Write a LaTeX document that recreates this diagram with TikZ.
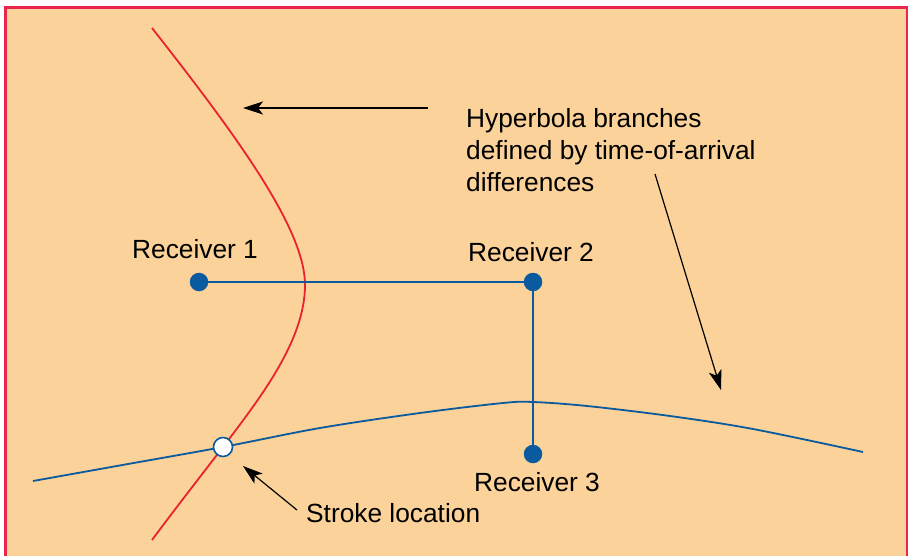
\documentclass[tikz,border=0pt]{standalone}
\usepackage{fontspec}
\setmainfont{Liberation Sans}
\usetikzlibrary{arrows.meta}
\definecolor{bgorange}{HTML}{FBD299}
\definecolor{framered}{HTML}{E8264E}
\definecolor{hypred}{HTML}{E8232F}
\definecolor{rblue}{HTML}{0A5AA0}
\begin{document}
\begin{tikzpicture}[x=1pt,y=-1pt,
  lbl/.style={anchor=base west,inner sep=0pt,font=\fontsize{26.3}{31}\selectfont,text=black},
  rdot/.style={circle,fill=rblue,inner sep=0pt,minimum size=18.5pt},
  sdot/.style={circle,draw=rblue,line width=1.6pt,fill=white,inner sep=0pt,minimum size=19pt},
  blueline/.style={draw=rblue,line width=1.8pt},
  redline/.style={draw=hypred,line width=1.8pt},
  pointer/.style={draw=black,line width=1.2pt,-{Stealth[length=20pt,width=13pt,inset=5pt]}}]
\useasboundingbox (0,0) rectangle (909,556);
\fill[white] (0,0) rectangle (909,556);
\filldraw[fill=bgorange,draw=framered,line width=2.5pt] (5.5,7.5) rectangle (907,570);
% hyperbola branches
\draw[redline] (152,28) .. controls (240,140) and (305,230) .. (305,285)
  .. controls (305,340) and (261,397) .. (223,447)
  .. controls (200,477) and (175,509) .. (152,540);
\draw[blueline,line join=round] plot[smooth,tension=0.55] coordinates{(33,481) (128,464) (223,447) (320,428) (420,413) (503,403) (533,402) (587,406) (670,416) (753,429) (863,452)};
% receivers
\node[rdot] (r1) at (199,282) {};
\node[rdot] (r2) at (533,282) {};
\node[rdot] (r3) at (533,454) {};
\draw[blueline] (r1) -- (r2);
\draw[blueline] (r2) -- (r3);
\node[sdot] (stroke) at (223,447) {};
% labels
\node[lbl] (l1) at (132,258) {Receiver 1};
\node[lbl] (l2) at (468,261) {Receiver 2};
\node[lbl] (l3) at (474,491) {Receiver 3};
\node[lbl] (ls) at (306,522) {Stroke location};
\node[lbl] (h1) at (466,128) {Hyperbola branches};
\node[lbl] (h2) at (466,160) {defined by time-of-arrival};
\node[lbl] (h3) at (466,191) {differences};
% pointers
\coordinate (a1s) at (428,108);
\coordinate (a1e) at (243,108);
\coordinate (a2s) at (655,174);
\coordinate (a2e) at (721,390);
\coordinate (a3s) at (297,510);
\coordinate (a3e) at (243,466);
\draw[pointer] (a1s) -- (a1e);
\draw[pointer] (a2s) -- (a2e);
\draw[pointer] (a3s) -- (a3e);
\end{tikzpicture}
\end{document}
